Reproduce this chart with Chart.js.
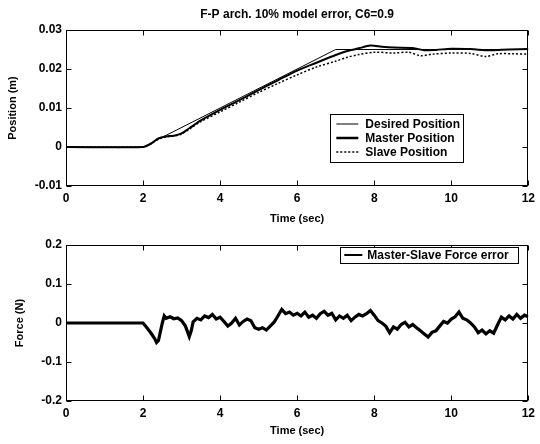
<!DOCTYPE html>
<html><head><meta charset="utf-8">
<script src="https://cdn.jsdelivr.net/npm/chart.js@4.4.1/dist/chart.umd.min.js"></script>
<style>
html,body{margin:0;padding:0;background:#fff;}
#c1{position:absolute;left:0;top:0;}
#c2{position:absolute;left:0;top:230px;}
</style></head><body>
<canvas id="c1" width="540" height="230"></canvas>
<canvas id="c2" width="540" height="214"></canvas>
<script>
// ---------- data ----------
const titleText = "F-P arch. 10% model error, C6=0.9";
const xTicks = [0, 2, 4, 6, 8, 10, 12];
const xTickLabels = ["0", "2", "4", "6", "8", "10", "12"];
const posTicks = [-0.01, 0, 0.01, 0.02, 0.03];
const posTickLabels = ["-0.01", "0", "0.01", "0.02", "0.03"];
const forceTicks = [-0.2, -0.1, 0, 0.1, 0.2];
const forceTickLabels = ["-0.2", "-0.1", "0", "0.1", "0.2"];

const desiredT = [0, 2, 7, 12];
const desiredV = [0, 0, 0.025, 0.025];

const masterT = [0, 2, 2.2, 2.4, 2.6, 2.8, 3.0, 3.2, 3.5, 4, 4.5, 5, 5.5, 6, 6.5, 7, 7.3, 7.6, 7.9, 8.2, 8.5, 9, 9.3, 9.6, 10, 10.5, 11, 11.5, 12];
const masterV = [0, 0, 0.0008, 0.0022, 0.0027, 0.0029, 0.0035, 0.0048, 0.0068, 0.0095, 0.012, 0.0146, 0.0171, 0.0196, 0.0216, 0.0236, 0.0246, 0.0253, 0.026, 0.0257, 0.0255, 0.0254, 0.0248, 0.0249, 0.0252, 0.0251, 0.0248, 0.025, 0.0251];

const slaveT = [0, 2, 2.2, 2.4, 2.6, 2.8, 3.0, 3.2, 3.5, 4, 4.5, 5, 5.5, 6, 6.5, 7, 7.3, 7.6, 8, 8.5, 8.9, 9.2, 9.5, 10, 10.5, 10.9, 11.2, 11.6, 12];
const slaveV = [0, 0, 0.0008, 0.002, 0.0026, 0.0028, 0.0033, 0.0046, 0.0065, 0.009, 0.0115, 0.014, 0.0163, 0.0185, 0.0205, 0.022, 0.023, 0.0237, 0.0243, 0.0241, 0.0243, 0.0234, 0.0238, 0.0241, 0.024, 0.0232, 0.0239, 0.0239, 0.0238];

const forceT = [0, 2.0, 2.1, 2.2, 2.3, 2.35, 2.4, 2.5, 2.55, 2.6, 2.7, 2.8, 2.9, 3.0, 3.1, 3.2, 3.25, 3.3, 3.4, 3.5, 3.6, 3.7, 3.8, 3.9,
  4.0, 4.1, 4.2, 4.3, 4.4, 4.5, 4.6, 4.7, 4.8, 4.9, 5.0, 5.1, 5.2, 5.3, 5.4, 5.5, 5.6, 5.7, 5.8, 5.9,
  6.0, 6.1, 6.2, 6.3, 6.4, 6.5, 6.6, 6.7, 6.8, 6.9, 7.0, 7.1, 7.2, 7.3, 7.4, 7.5, 7.6, 7.7, 7.8, 7.9,
  8.0, 8.1, 8.2, 8.3, 8.4, 8.5, 8.6, 8.7, 8.8, 8.9, 9.0, 9.1, 9.2, 9.3, 9.4, 9.5, 9.6, 9.7, 9.8, 9.9,
  10.0, 10.1, 10.2, 10.3, 10.4, 10.5, 10.6, 10.7, 10.8, 10.9, 11.0, 11.1, 11.2, 11.3, 11.4, 11.5, 11.6, 11.7, 11.8, 11.9, 12.0];
const forceV = [0, 0, -0.012, -0.025, -0.04, -0.05, -0.045, 0.0, 0.018, 0.012, 0.016, 0.011, 0.013, 0.006, -0.008, -0.035, -0.02, 0.003, 0.012, 0.008, 0.018, 0.014, 0.022, 0.01,
  0.015, 0.004, -0.008, 0.0, 0.012, -0.005, 0.004, 0.01, 0.006, -0.012, -0.016, -0.012, -0.018, -0.008, 0.002, 0.018, 0.035, 0.024, 0.028, 0.02,
  0.025, 0.018, 0.028, 0.015, 0.02, 0.012, 0.024, 0.03, 0.02, 0.025, 0.008, 0.018, 0.012, 0.02, 0.006, 0.015, 0.022, 0.018, 0.024, 0.032,
  0.02, 0.006, 0.0, -0.008, -0.025, -0.01, -0.016, -0.004, 0.002, -0.01, -0.004, -0.012, -0.02, -0.028, -0.036, -0.024, -0.02, -0.008, 0.004, 0.0,
  0.01, 0.016, 0.028, 0.012, 0.008, 0.0, -0.01, -0.025, -0.018, -0.028, -0.02, -0.026, -0.005, 0.015, 0.008, 0.018, 0.01, 0.022, 0.012, 0.02, 0.016];

// ---------- helpers ----------
const pts = (t, v) => t.map((x, i) => ({x: x, y: v[i]}));
const FONT = 'Arial, "Liberation Sans", Helvetica, sans-serif';
Chart.defaults.font.family = FONT;
Chart.defaults.color = '#000';

const framePlugin = {
  id: 'frame',
  afterDatasetsDraw(chart) {
    const {ctx, chartArea: a, scales: {x, y}} = chart;
    ctx.save();
    ctx.strokeStyle = '#000';
    ctx.lineWidth = 1;
    const l = Math.round(a.left) + 0.5, r = Math.round(a.right) - 0.5;
    const t = Math.round(a.top) + 0.5, b = Math.round(a.bottom) - 0.5;
    ctx.strokeRect(l, t, r - l, b - t);
    const L = 5;
    ctx.beginPath();
    x.ticks.forEach(tk => {
      const px = Math.round(x.getPixelForValue(tk.value)) + 0.5;
      ctx.moveTo(px, b); ctx.lineTo(px, b - L);
      ctx.moveTo(px, t); ctx.lineTo(px, t + L);
    });
    y.ticks.forEach(tk => {
      const py = Math.round(y.getPixelForValue(tk.value)) + 0.5;
      ctx.moveTo(l, py); ctx.lineTo(l + L, py);
      ctx.moveTo(r, py); ctx.lineTo(r - L, py);
    });
    ctx.stroke();
    ctx.restore();
  }
};

const boxLegendPlugin = {
  id: 'boxLegend',
  afterDraw(chart, args, opts) {
    const {ctx, chartArea: a} = chart;
    const ds = chart.data.datasets;
    const x0 = a.right - opts.right - opts.width;
    const y0 = a.top + opts.top;
    ctx.save();
    ctx.fillStyle = '#fff';
    ctx.fillRect(x0, y0, opts.width, opts.height);
    ctx.strokeStyle = '#000';
    ctx.lineWidth = 1;
    ctx.strokeRect(Math.round(x0) + 0.5, Math.round(y0) + 0.5, opts.width, opts.height);
    ctx.font = opts.font;
    ctx.textBaseline = 'middle';
    ctx.textAlign = 'left';
    ds.forEach((d, i) => {
      const yy = y0 + opts.firstRow + i * opts.rowGap;
      ctx.beginPath();
      ctx.strokeStyle = d.borderColor;
      ctx.lineWidth = d.legendWidth || d.borderWidth;
      ctx.setLineDash(d.borderDash || []);
      ctx.moveTo(x0 + opts.lineX0, yy);
      ctx.lineTo(x0 + opts.lineX1, yy);
      ctx.stroke();
      ctx.setLineDash([]);
      ctx.fillStyle = '#000';
      ctx.fillText(d.label, x0 + opts.textX, yy + 0.5);
    });
    ctx.restore();
  }
};

function xScale(padBottom, height) {
  return {
    type: 'linear', min: 0, max: 12,
    afterBuildTicks: s => { s.ticks = xTicks.map(v => ({value: v})); },
    afterFit: s => { s.height = height; },
    grid: {display: false, drawTicks: false},
    border: {display: false},
    ticks: {padding: 5, font: {size: 12, weight: 'bold'}, color: '#000',
      maxRotation: 0, autoSkip: false, callback: (v, i) => xTickLabels[i]},
    title: {display: true, text: 'Time (sec)', font: {size: 11, weight: 'bold'}, color: '#000',
      padding: {top: 0, bottom: padBottom}}
  };
}
function yScale(ticks, labels, min, max, title, titlePad) {
  return {
    type: 'linear', min: min, max: max,
    afterBuildTicks: s => { s.ticks = ticks.map(v => ({value: v})); },
    afterFit: s => { s.width = 66; },
    grid: {display: false, drawTicks: false},
    border: {display: false},
    ticks: {padding: 4, font: {size: 12, weight: 'bold'}, color: '#000', autoSkip: false,
      callback: (v, i) => labels[i]},
    title: {display: true, text: title, font: {size: 11, weight: 'bold'}, color: '#000',
      padding: {top: titlePad, bottom: 0}}
  };
}

// ---------- top chart ----------
new Chart(document.getElementById('c1'), {
  type: 'line',
  data: {
    datasets: [
      {label: 'Desired Position', data: pts(desiredT, desiredV), borderColor: '#000', borderWidth: 1, pointRadius: 0, tension: 0},
      {label: 'Master Position', data: pts(masterT, masterV), borderColor: '#000', borderWidth: 2, pointRadius: 0, tension: 0.3, legendWidth: 2.5},
      {label: 'Slave Position', data: pts(slaveT, slaveV), borderColor: '#000', borderWidth: 1.5, borderDash: [2, 2], pointRadius: 0, tension: 0.3}
    ]
  },
  options: {
    responsive: false, animation: false, devicePixelRatio: 1,
    layout: {padding: {left: 0, right: 7, top: 0, bottom: 0}},
    scales: {
      x: xScale(4.4, 44),
      y: yScale(posTicks, posTickLabels, -0.01, 0.03, 'Position (m)', 6.4)
    },
    plugins: {
      legend: {display: false},
      tooltip: {enabled: false},
      title: {display: true, text: titleText, fullSize: false, color: '#000',
        font: {size: 12, weight: 'bold'}, padding: {top: 7, bottom: 8.6}},
      boxLegend: {right: 65, top: 84, width: 133, height: 48, firstRow: 10, rowGap: 14,
        lineX0: 6, lineX1: 28, textX: 35, font: 'bold 12px ' + FONT}
    }
  },
  plugins: [framePlugin, boxLegendPlugin]
});

// ---------- bottom chart ----------
new Chart(document.getElementById('c2'), {
  type: 'line',
  data: {
    datasets: [
      {label: 'Master-Slave Force error', data: pts(forceT, forceV), borderColor: '#000', borderWidth: 3.2, pointRadius: 0, tension: 0, legendWidth: 2}
    ]
  },
  options: {
    responsive: false, animation: false, devicePixelRatio: 1,
    layout: {padding: {left: 0, right: 7, top: 15, bottom: 0}},
    scales: {
      x: xScale(6.4, 43),
      y: yScale(forceTicks, forceTickLabels, -0.2, 0.2, 'Force (N)', 13.4)
    },
    plugins: {
      legend: {display: false},
      tooltip: {enabled: false},
      boxLegend: {right: 10, top: 2, width: 178, height: 16, firstRow: 8, rowGap: 14,
        lineX0: 4, lineX1: 22, textX: 27, font: 'bold 12px ' + FONT}
    }
  },
  plugins: [framePlugin, boxLegendPlugin]
});
</script>
</body></html>
